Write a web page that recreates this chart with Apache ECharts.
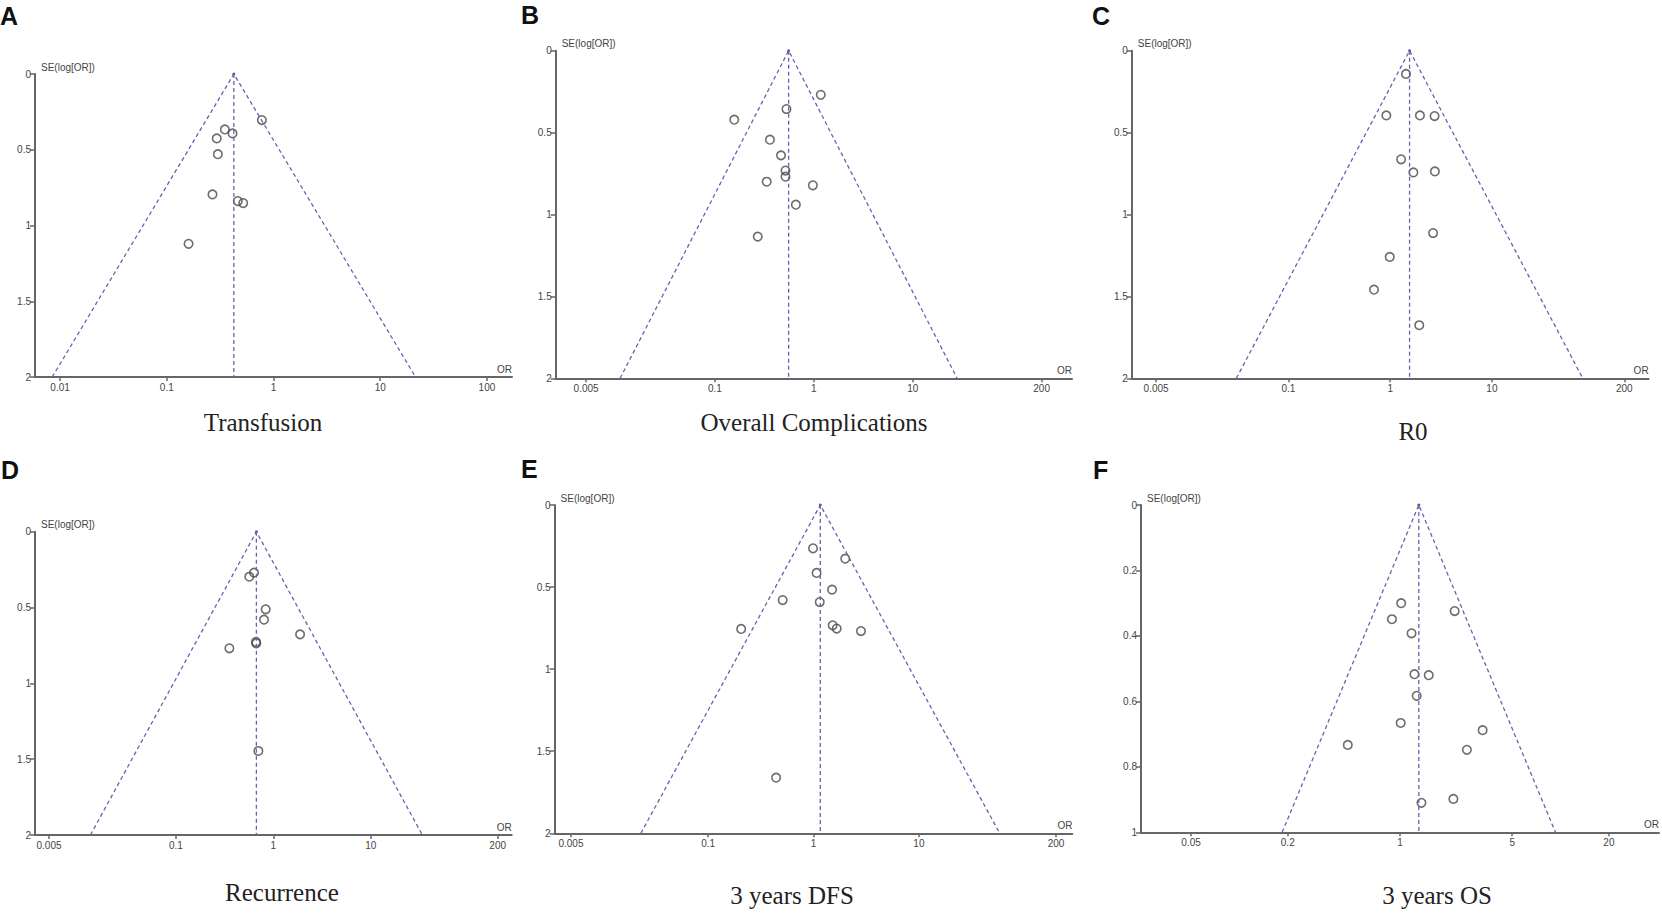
<!DOCTYPE html>
<html>
<head>
<meta charset="utf-8">
<title>Funnel plots</title>
<script src="https://cdn.jsdelivr.net/npm/echarts@6/dist/echarts.min.js"></script>
<style>
  html, body { margin: 0; padding: 0; background: #fff; }
  #chart { width: 1662px; height: 913px; }
</style>
</head>
<body>
<div id="chart"></div>
<script>
// each study: [OR, SE(log[OR])]
var transfusionPts = [[0.778, 0.304], [0.35, 0.366], [0.413, 0.392], [0.294, 0.425], [0.301, 0.529],
    [0.268, 0.795], [0.463, 0.839], [0.52, 0.852], [0.16, 1.121]];
var complicationsPts = [[1.175, 0.269], [0.529, 0.356], [0.157, 0.421], [0.36, 0.543], [0.466, 0.639],
    [0.517, 0.732], [0.517, 0.769], [0.334, 0.80], [0.977, 0.822], [0.658, 0.94], [0.271, 1.135]];
var r0Pts = [[1.43, 0.142], [0.916, 0.395], [1.96, 0.395], [2.73, 0.399], [1.28, 0.663], [1.69, 0.743],
    [2.75, 0.737], [2.64, 1.113], [0.99, 1.259], [0.693, 1.459], [1.93, 1.676]];
var recurrencePts = [[0.634, 0.27], [0.567, 0.297], [0.834, 0.512], [0.802, 0.58], [1.88, 0.677],
    [0.664, 0.727], [0.668, 0.736], [0.354, 0.769], [0.702, 1.446]];
var dfsPts = [[0.99, 0.264], [2.0, 0.327], [1.07, 0.414], [1.50, 0.516], [0.51, 0.579], [1.146, 0.591],
    [1.52, 0.733], [1.66, 0.753], [2.82, 0.768], [0.206, 0.755], [0.442, 1.661]];
var osPts = [[1.017, 0.30], [2.19, 0.324], [0.891, 0.349], [1.18, 0.392], [1.23, 0.517], [1.51, 0.52],
    [1.27, 0.583], [1.01, 0.666], [3.27, 0.688], [0.473, 0.733], [2.61, 0.748], [2.15, 0.898], [1.36, 0.91]];

// pooled OR (apex of the funnel)
var pooledOR = [0.425, 0.556, 1.55, 0.67, 1.16, 1.31];

// x tick labels (OR) and y tick step / max
var xTicksA = [0.01, 0.1, 1, 10, 100];
var xTicksB = [0.005, 0.1, 1, 10, 200];
var xTicksF = [0.05, 0.2, 1, 5, 20];
var seMax = [2, 2, 2, 2, 2, 1];
var seStep = [0.5, 0.5, 0.5, 0.5, 0.5, 0.2];

var titles = ['Transfusion', 'Overall Complications', 'R0', 'Recurrence', '3 years DFS', '3 years OS'];
var letters = ['A', 'B', 'C', 'D', 'E', 'F'];

var panels = [
    { pts: transfusionPts,   ticks: xTicksA, half: 2.235, grid: [35, 74, 477, 303],       title: [263, 422], letter: [0, 16] },
    { pts: complicationsPts, ticks: xTicksB, half: 2.608, grid: [555.7, 50.7, 516.3, 327.6], title: [814, 422], letter: [521, 15] },
    { pts: r0Pts,            ticks: xTicksB, half: 2.54,  grid: [1131.8, 50.7, 516.8, 327.6], title: [1413, 431], letter: [1092, 16] },
    { pts: recurrencePts,    ticks: xTicksB, half: 2.445, grid: [35, 531.7, 476.7, 303.3],  title: [282, 892], letter: [1, 470] },
    { pts: dfsPts,           ticks: xTicksB, half: 2.456, grid: [554.6, 505, 517.8, 328.3], title: [792, 895], letter: [521, 469] },
    { pts: osPts,            ticks: xTicksF, half: 1.613, grid: [1141, 505, 518, 327.3],    title: [1437, 895], letter: [1093, 470] }
];

var axisGrey = '#666';
var labelGrey = '#444';
var dashBlue = '#6464b0';
var k = 1.96 / Math.LN10;

function lg(v) { return Math.log10(v); }
function tickText(v) { return String(Math.round(Math.pow(10, v) * 1e6) / 1e6); }

var grids = [], xAxes = [], yAxes = [], series = [], graphics = [];

panels.forEach(function (p, i) {
    var g = p.grid;
    grids.push({ left: g[0], top: g[1], width: g[2], height: g[3] });

    var tickVals = p.ticks.map(lg);
    xAxes.push({
        type: 'value', gridIndex: i, min: -p.half, max: p.half,
        name: 'OR', nameLocation: 'end', nameGap: 0,
        nameTextStyle: { align: 'right', verticalAlign: 'bottom', padding: [0, 0, 3, 0],
            color: labelGrey, fontSize: 10, fontFamily: 'Liberation Sans' },
        axisLine: { onZero: false, lineStyle: { color: axisGrey, width: 2 } },
        axisTick: { show: true, length: 4, customValues: tickVals, lineStyle: { color: axisGrey, width: 1.5 } },
        axisLabel: { customValues: tickVals, formatter: tickText, color: labelGrey, fontSize: 10,
            fontFamily: 'Liberation Sans', margin: 5 },
        splitLine: { show: false }
    });
    yAxes.push({
        type: 'value', gridIndex: i, min: 0, max: seMax[i], interval: seStep[i], inverse: true,
        name: 'SE(log[OR])', nameLocation: 'start', nameGap: 2,
        nameTextStyle: { align: 'left', verticalAlign: 'bottom', padding: [0, 0, 0, 6],
            color: labelGrey, fontSize: 10, fontFamily: 'Liberation Sans' },
        axisLine: { onZero: false, lineStyle: { color: axisGrey, width: 2 } },
        axisTick: { length: 5, lineStyle: { color: axisGrey, width: 1.5 } },
        axisLabel: { color: labelGrey, fontSize: 10, fontFamily: 'Liberation Sans', margin: 4 },
        splitLine: { show: false }
    });

    var c = lg(pooledOR[i]);
    var m = seMax[i];
    series.push({
        type: 'line', xAxisIndex: i, yAxisIndex: i, symbol: 'none', silent: true,
        data: [[c - k * m, m], [c, 0], [c + k * m, m]],
        lineStyle: { color: dashBlue, width: 1.3, type: [4, 3] }
    });
    series.push({
        type: 'line', xAxisIndex: i, yAxisIndex: i, symbol: 'none', silent: true,
        data: [[c, 0], [c, m]],
        lineStyle: { color: dashBlue, width: 1.3, type: [4, 3] }
    });
    series.push({
        type: 'scatter', xAxisIndex: i, yAxisIndex: i, symbol: 'circle', symbolSize: 3, silent: true,
        data: [[c, 0]], itemStyle: { color: '#2a2a80' }
    });
    series.push({
        type: 'scatter', xAxisIndex: i, yAxisIndex: i, symbol: 'circle', symbolSize: 8.5,
        data: p.pts.map(function (d) { return [lg(d[0]), d[1]]; }),
        itemStyle: { color: 'rgba(0,0,0,0)', borderColor: '#484848', borderWidth: 1.6 }
    });

    graphics.push({
        type: 'text', x: p.letter[0], y: p.letter[1],
        style: { text: letters[i], font: 'bold 25px "Liberation Sans", Arial', fill: '#111',
            textAlign: 'left', textVerticalAlign: 'middle' }
    });
    graphics.push({
        type: 'text', x: p.title[0], y: p.title[1],
        style: { text: titles[i], font: '25px "Liberation Serif", "Times New Roman", serif', fill: '#222',
            textAlign: 'center', textVerticalAlign: 'middle' }
    });
});

var myChart = echarts.init(document.getElementById('chart'), null, { renderer: 'svg' });
myChart.setOption({
    backgroundColor: '#fff',
    animation: false,
    grid: grids,
    xAxis: xAxes,
    yAxis: yAxes,
    series: series,
    graphic: graphics
});
</script>
</body>
</html>
